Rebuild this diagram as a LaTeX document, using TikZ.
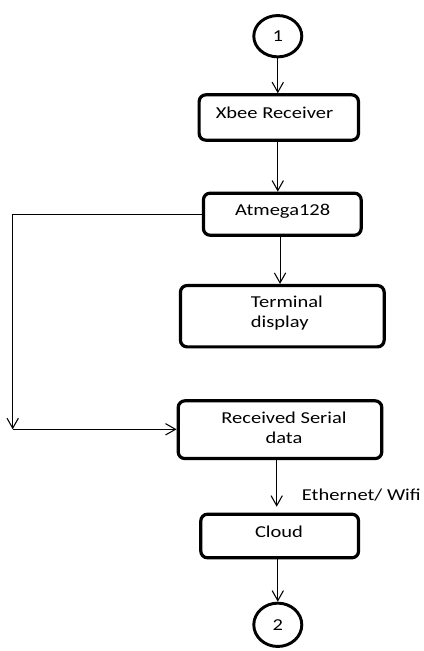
\documentclass[tikz,border=0pt]{standalone}
\usepackage{fontspec}
\setmainfont{Carlito}[FakeStretch=1.23]
\usetikzlibrary{arrows.meta,shapes.geometric}
\begin{document}
\begin{tikzpicture}[x=0.75pt,y=-0.75pt,
  box/.style={draw, line width=2.4pt, rounded corners=5pt, inner sep=0pt},
  term/.style={draw, ellipse, line width=2.2pt, inner sep=0pt, font=\fontsize{12.5}{14.6}\selectfont},
  txt/.style={inner sep=0pt, font=\fontsize{12.5}{14.6}\selectfont},
  conn/.style={line width=0.8pt, -{Straight Barb[length=7.5pt,width=8.5pt]}}
]
\useasboundingbox (0,0) rectangle (424,651);

% terminals
\node[term, minimum width=36pt, minimum height=31pt] (c1) at (277.8,36.2) {1};
\node[term, minimum width=36pt, minimum height=32.5pt] (c2) at (277.8,624.8) {2};

% boxes
\node[box, minimum width=119.5pt, minimum height=34pt] (xbee) at (278.8,117.5) {};
\node[box, minimum width=118.3pt, minimum height=31.5pt] (atm) at (282.3,214.2) {};
\node[box, minimum width=152.8pt, minimum height=46pt] (termd) at (282.3,316.2) {};
\node[box, minimum width=152.7pt, minimum height=43.3pt] (rec) at (280,429.7) {};
\node[box, minimum width=118.3pt, minimum height=32.7pt] (cloud) at (279.7,536) {};

% texts
\node[txt, anchor=base] (xbeeT) at (274.5,118.3) {Xbee Receiver};
\node[txt, anchor=base] (atmT) at (282.7,215.3) {Atmega128};
\node[txt, anchor=north west, align=left] (termT) at (250.7,296) {Terminal\\display};
\node[txt, anchor=north, align=center] (recT) at (284,412) {Received Serial\\data};
\node[txt, anchor=base west] (ethT) at (301.7,500) {Ethernet/ Wifi};
\node[txt, anchor=base] (cloudT) at (279,537.3) {Cloud};

% connectors
\coordinate (cl) at (12.7,429.3);
\coordinate (eth) at (276.7,506.7);
\draw[conn] (c1.south) -- (c1.south |- xbee.north);
\draw[conn] (xbee.south -| c1.center) -- (atm.north -| c1.center);
\draw[conn] ([xshift=-1.7pt]atm.south) -- ([xshift=-1.7pt]atm.south |- termd.north);
\draw[conn] (atm.west) -- (atm.west -| cl) -- (cl);
\draw[conn] (cl) -- (rec.west |- cl);
\draw[conn] (rec.south -| eth) -- (eth);
\draw[conn] (cloud.south -| c2.center) -- (c2.north);
\end{tikzpicture}
\end{document}
